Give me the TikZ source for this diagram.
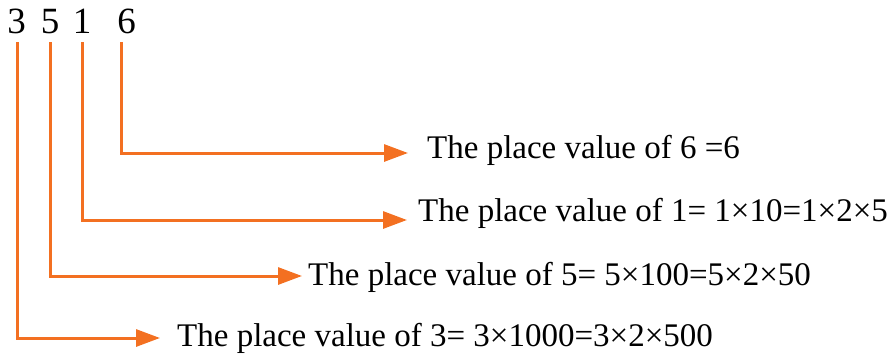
\documentclass[tikz,border=0pt]{standalone}
\usepackage{fontspec}
\setmainfont{Liberation Serif}
\usetikzlibrary{arrows.meta}
\definecolor{flame}{HTML}{F37021}

\begin{document}
\begin{tikzpicture}[x=1pt, y=-1pt,
    digit/.style={font=\fontsize{37}{44}\selectfont, inner sep=0pt, anchor=base},
    pvlabel/.style={font=\fontsize{33}{40}\selectfont, inner sep=0pt, anchor=base west},
    link/.style={flame, line width=3pt, -{Triangle[length=24pt, width=17pt]}}]
  \useasboundingbox (0,0) rectangle (892,354);
  % the number
  \node[digit] (d3) at (16.5,33){3};
  \node[digit] (d5) at (50,33){5};
  \node[digit] (d1) at (82,33){1};
  \node[digit] (d6) at (126.5,33){6};
  % place values
  \node[pvlabel] (l6) at (427,158){The place value of 6 =6};
  \node[pvlabel] (l1) at (418,221){The place value of 1= 1×10=1×2×5};
  \node[pvlabel] (l5) at (308,285){The place value of 5= 5×100=5×2×50};
  \node[pvlabel] (l3) at (177,346){The place value of 3= 3×1000=3×2×500};
  % connectors
  \coordinate (s3) at (17.3,42);  \coordinate (t3) at (160,338);
  \coordinate (s5) at (50.5,42);  \coordinate (t5) at (302,276);
  \coordinate (s1) at (82.5,42);  \coordinate (t1) at (407,220);
  \coordinate (s6) at (121,42);   \coordinate (t6) at (408,153);
  \draw[link] (s6) |- (t6);
  \draw[link] (s1) |- (t1);
  \draw[link] (s5) |- (t5);
  \draw[link] (s3) |- (t3);
\end{tikzpicture}
\end{document}
